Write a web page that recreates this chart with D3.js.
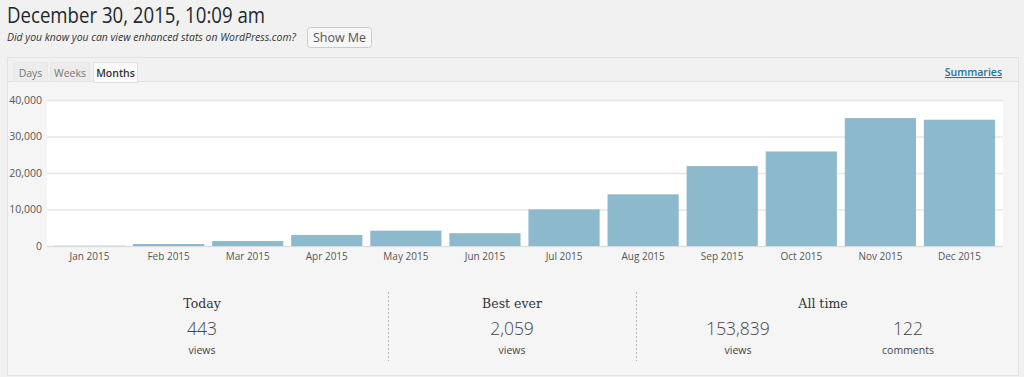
<!DOCTYPE html>
<html>
<head>
<meta charset="utf-8">
<script src="https://cdn.jsdelivr.net/npm/d3@7"></script>
<style>
  body { margin: 0; background: #f1f1f1; }
  svg { display: block; font-family: "Open Sans", sans-serif; }
</style>
</head>
<body>
<svg id="viz" width="1024" height="377"></svg>
<script>
// Data
const months = ["Jan 2015", "Feb 2015", "Mar 2015", "Apr 2015", "May 2015", "Jun 2015",
  "Jul 2015", "Aug 2015", "Sep 2015", "Oct 2015", "Nov 2015", "Dec 2015"];
const views = [80, 550, 1350, 3000, 4200, 3500, 10030, 14150, 21900, 25900, 35050, 34600];
const yTicks = [0, 10000, 20000, 30000, 40000];
const tabs = ["Days", "Weeks", "Months"];
const summaryHeads = ["Today", "Best ever", "All time"];
const summaryNums = ["443", "2,059", "153,839", "122"];
const summaryUnits = ["views", "views", "views", "comments"];

const svg = d3.select("#viz");
const plot = {left: 47, right: 1003, top: 100, bottom: 246};

// header
svg.append("text").attr("x", 7).attr("y", 23)
  .attr("font-size", 22).attr("fill", "#23282d")
  .attr("textLength", 258).attr("lengthAdjust", "spacingAndGlyphs")
  .text("December 30, 2015, 10:09 am");
svg.append("text").attr("x", 7).attr("y", 41)
  .attr("font-size", 11.2).attr("font-style", "italic").attr("fill", "#333")
  .attr("textLength", 289).attr("lengthAdjust", "spacingAndGlyphs")
  .text("Did you know you can view enhanced stats on WordPress.com?");
svg.append("rect").attr("x", 307.5).attr("y", 27.5).attr("width", 64).attr("height", 20)
  .attr("rx", 3).attr("fill", "#f7f7f7").attr("stroke", "#ccc");
svg.append("text").attr("x", 339.5).attr("y", 42).attr("text-anchor", "middle")
  .attr("font-size", 12.5).attr("fill", "#555").text("Show Me");

// panel
svg.append("rect").attr("x", 7.5).attr("y", 57.5).attr("width", 1011).attr("height", 318)
  .attr("fill", "#f5f5f5").attr("stroke", "#e2e2e2");
svg.append("rect").attr("x", 8).attr("y", 58).attr("width", 1010).attr("height", 23)
  .attr("fill", "#f1f1f1");
svg.append("line").attr("x1", 8).attr("x2", 1018).attr("y1", 81.5).attr("y2", 81.5)
  .attr("stroke", "#dfdfdf");

// tabs
const tabX = [13, 50, 93], tabW = [34, 39, 44];
tabs.forEach((t, i) => {
  const active = t === "Months";
  svg.append("rect").attr("x", tabX[i] + 0.5).attr("y", 62.5).attr("width", tabW[i]).attr("height", active ? 20 : 19)
    .attr("fill", active ? "#fbfbfb" : "#ececec").attr("stroke", active ? "#dfdfdf" : "#e6e6e6");
  svg.append("text").attr("x", tabX[i] + tabW[i] / 2 + 0.5).attr("y", 77)
    .attr("text-anchor", "middle").attr("font-size", 10.5)
    .attr("font-weight", active ? 600 : 400)
    .attr("fill", active ? "#333" : "#777").text(t);
});
svg.append("text").attr("x", 1002).attr("y", 76).attr("text-anchor", "end")
  .attr("font-size", 10.5).attr("font-weight", 600).attr("fill", "#21759b")
  .attr("text-decoration", "underline").text("Summaries");

// chart
const xScale = d3.scaleBand().domain(months).range([50, 999])
  .paddingInner(0.1).paddingOuter(0.05);
const yScale = d3.scaleLinear().domain([0, 40000]).range([plot.bottom, plot.top]);

svg.append("rect").attr("x", plot.left).attr("y", plot.top)
  .attr("width", plot.right - plot.left).attr("height", plot.bottom - plot.top)
  .attr("fill", "#fff");

const yAxis = svg.append("g").attr("transform", `translate(${plot.left},0)`)
  .call(d3.axisLeft(yScale).tickValues(yTicks).tickFormat(d3.format(","))
    .tickSize(-(plot.right - plot.left)).tickPadding(5));
yAxis.select(".domain").remove();
yAxis.selectAll(".tick line").attr("stroke", "#e6e6e6").attr("stroke-width", 1.5);
yAxis.selectAll(".tick text").attr("font-size", 10.5).attr("fill", "#555")
  .attr("font-family", "Open Sans, sans-serif");

svg.append("g").selectAll("rect").data(views).enter().append("rect")
  .attr("x", (d, i) => xScale(months[i]))
  .attr("width", xScale.bandwidth())
  .attr("y", d => yScale(d))
  .attr("height", d => yScale(0) - yScale(d))
  .attr("fill", "#8db9cc");

svg.append("line").attr("x1", plot.left).attr("x2", plot.right)
  .attr("y1", plot.bottom + 0.5).attr("y2", plot.bottom + 0.5).attr("stroke", "#dcdcdc");

const xAxis = svg.append("g").attr("transform", `translate(0,${plot.bottom})`)
  .call(d3.axisBottom(xScale).tickSize(0).tickPadding(7));
xAxis.select(".domain").remove();
xAxis.selectAll(".tick text").attr("font-size", 10).attr("fill", "#555")
  .attr("font-family", "Open Sans, sans-serif");

// summary
const headX = [202, 512, 823];
svg.selectAll(".head").data(summaryHeads).enter().append("text")
  .attr("x", (d, i) => headX[i]).attr("y", 308).attr("text-anchor", "middle")
  .attr("font-family", "Georgia, 'DejaVu Serif', serif").attr("font-size", 12.5)
  .attr("fill", "#333").text(d => d);
const numX = [202, 512, 738, 908];
svg.selectAll(".num").data(summaryNums).enter().append("text")
  .attr("x", (d, i) => numX[i]).attr("y", 335).attr("text-anchor", "middle")
  .attr("font-size", 17.5).attr("font-weight", 300).attr("fill", "#444").text(d => d);
svg.selectAll(".unit").data(summaryUnits).enter().append("text")
  .attr("x", (d, i) => numX[i]).attr("y", 354).attr("text-anchor", "middle")
  .attr("font-size", 10.5).attr("fill", "#444").text(d => d);
[388.5, 636.5].forEach(x => {
  svg.append("line").attr("x1", x).attr("x2", x).attr("y1", 292).attr("y2", 361)
    .attr("stroke", "#bbb").attr("stroke-dasharray", "2,2");
});
</script>
</body>
</html>
